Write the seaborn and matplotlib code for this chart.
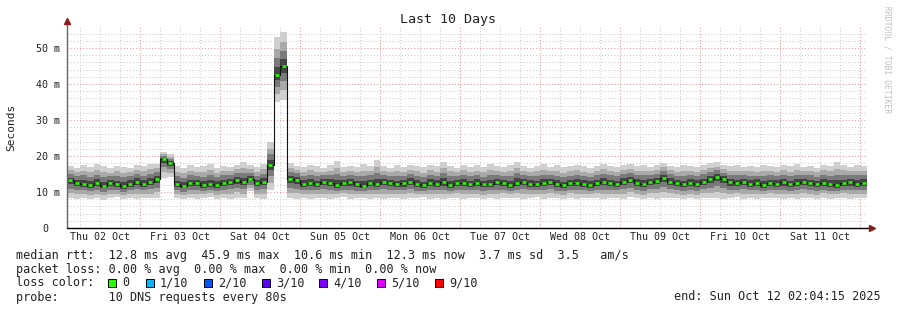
import numpy as np
import matplotlib
matplotlib.use("Agg")
import matplotlib.pyplot as plt
import seaborn as sns
from matplotlib.patches import Rectangle
from matplotlib.transforms import ScaledTranslation

# ---------------- data (2-hour steps, ms) ----------------
median_ms = [
    13.2, 12.6, 12.3, 12.0, 12.4, 11.8, 12.5, 12.1, 11.6, 12.3, 12.9, 12.2, 12.8,
    13.6, 19.2, 18.0,
    12.2, 11.8, 12.4, 12.6, 11.9, 12.2, 12.0, 12.5, 12.9, 13.3, 12.8, 13.6, 12.4, 12.9,
    17.5, 42.5, 45.0,
    13.6, 13.4, 12.3, 12.6, 12.1, 12.8, 12.5, 11.9, 12.4, 12.7, 12.2, 11.8, 12.5,
    12.3, 12.9, 12.6, 12.1, 12.4, 12.8, 12.2, 11.9, 12.5, 12.3, 12.7, 12.0, 12.4, 12.6, 12.2,
    12.5, 12.1, 12.3, 12.8, 12.4, 12.0, 12.6, 12.9, 12.3, 12.1, 12.5, 12.7, 12.2, 11.9, 12.4,
    12.6, 12.3, 12.0, 12.4, 12.8, 12.5, 12.2, 12.9, 13.4, 12.6, 12.3, 12.7, 13.1, 13.8, 12.9,
    12.4, 12.1, 12.6, 12.3, 12.8, 13.5, 14.2, 13.6, 12.7, 12.4, 12.9, 12.2, 12.6, 12.0, 12.5,
    12.3, 12.7, 12.1, 12.4, 12.8, 12.5, 12.2, 12.6, 12.3, 12.0, 12.4, 12.7, 12.3, 12.6,
]
smoke_max_ms = [
    17.2, 16.8, 17.5, 16.9, 17.8, 17.1, 16.6, 17.3, 17.0, 16.8, 17.6, 17.2, 17.9,
    17.8, 21.0, 20.5,
    17.1, 16.7, 17.4, 16.9, 17.2, 17.8, 16.8, 17.3, 17.0, 17.6, 18.3, 17.4, 16.9, 17.8,
    24.0, 53.0, 54.5,
    18.0, 17.3, 16.9, 17.6, 17.1, 16.8, 17.4, 18.6, 17.0, 17.3, 16.9, 17.7, 17.2,
    18.9, 17.1, 16.8, 17.4, 17.0, 17.6, 17.2, 16.9, 17.5, 17.1, 18.2, 17.3, 16.8, 17.6, 17.0,
    17.4, 16.9, 17.8, 17.2, 17.0, 17.5, 18.4, 17.1, 16.8, 17.3, 17.7, 17.0, 17.4, 16.9, 17.2,
    17.6, 17.1, 16.8, 17.3, 17.9, 17.2, 17.0, 17.5, 17.8, 17.2, 17.4, 17.0, 17.6, 18.1, 17.3,
    17.0, 17.5, 17.2, 16.9, 17.4, 18.0, 18.2, 17.6, 17.1, 17.4, 16.9, 17.3, 17.0, 17.6, 17.2,
    16.9, 17.4, 17.1, 17.8, 17.0, 17.3, 16.8, 17.5, 17.2, 18.3, 17.6, 17.0, 17.4, 17.2,
]
smoke_min_ms = [
    8.2, 8.0, 8.4, 8.1, 8.3, 7.9, 8.2, 8.5, 8.0, 8.3, 8.1, 8.4, 8.2,
    8.3, 14.0, 14.2,
    8.4, 8.1, 8.3, 8.0, 8.2, 8.5, 8.1, 8.3, 8.0, 8.4, 8.2, 10.2, 8.3, 8.1,
    10.5, 35.0, 35.5,
    8.2, 8.0, 8.3, 8.1, 8.4, 8.2, 8.0, 8.3, 8.5, 8.1, 8.2, 8.4, 8.0,
    8.3, 8.1, 8.2, 8.4, 8.0, 8.3, 8.2, 8.5, 8.1, 8.3, 8.0, 8.2, 8.4, 8.1, 8.3,
    8.2, 8.0, 8.3, 8.1, 8.4, 8.2, 8.3, 8.0, 8.2, 8.5, 8.1, 8.3, 8.2, 8.0, 8.4,
    8.1, 8.3, 8.2, 8.4, 8.0, 8.2, 8.3, 8.1, 8.5, 8.2, 8.0, 8.3, 8.1, 8.4, 8.2,
    8.3, 8.1, 8.2, 8.0, 8.4, 8.2, 8.3, 8.1, 8.2, 8.5, 8.0, 8.3, 8.1, 8.2, 8.4,
    8.2, 8.0, 8.3, 8.1, 8.4, 8.2, 8.0, 8.3, 8.1, 8.2, 8.4, 8.0, 8.3, 8.2,
]
day_labels = ["Thu 02 Oct", "Fri 03 Oct", "Sat 04 Oct", "Sun 05 Oct", "Mon 06 Oct",
              "Tue 07 Oct", "Wed 08 Oct", "Thu 09 Oct", "Fri 10 Oct", "Sat 11 Oct"]
ytick_vals = [0, 10, 20, 30, 40, 50]
ytick_labels = ["0", "10 m", "20 m", "30 m", "40 m", "50 m"]
loss_labels = ["0", "1/10", "2/10", "3/10", "4/10", "5/10", "9/10"]
loss_colors = ["#26ff00", "#00b8ff", "#0059ff", "#5e00ff", "#7e00ff", "#dd00ff", "#ff0000"]
legend_lines = [
    "median rtt:  12.8 ms avg  45.9 ms max  10.6 ms min  12.3 ms now  3.7 ms sd  3.5   am/s",
    "packet loss: 0.00 % avg  0.00 % max  0.00 % min  0.00 % now",
]
probe_text = "probe:       10 DNS requests every 80s"
end_text = "end: Sun Oct 12 02:04:15 2025"
title_text = "Last 10 Days"

# ---------------- layout ----------------
W, H = 897, 310
sns.set_theme(style="white")
plt.rcParams["font.family"] = ["DejaVu Sans Mono", "DejaVu Sans"]

fig = plt.figure(figsize=(W / 100, H / 100), dpi=100)
fig.patch.set_facecolor("white")
AX_L, AX_R, AX_B, AX_T = 67, 867, 228, 26.4
ax = fig.add_axes([AX_L / W, (H - AX_B) / H, (AX_R - AX_L) / W, (AX_B - AX_T) / H])
ax.set_facecolor("white")

def px(x, y):
    return x / W, 1 - y / H

# time axis: hours since Oct 02 00:00
start_h = 2 + 4.25 / 60
step_h = 2.0
n = len(median_ms)
t_edges = start_h + step_h * np.arange(n + 1)
t_mid = t_edges[:-1] + step_h / 2

med = np.array(median_ms)
lo = np.array(smoke_min_ms)
hi = np.array(smoke_max_ms)

# smoke layers (outer to inner)
layer_frac = [0.0, 0.3, 0.55, 0.8]
layer_col = ["#cfcfcf", "#a9a9a9", "#7a7a7a", "#444444"]
for f, c in zip(layer_frac, layer_col):
    lower = lo + f * (med - lo)
    upper = hi - f * (hi - med)
    ax.fill_between(t_edges, np.append(lower, lower[-1]), np.append(upper, upper[-1]),
                    step="post", color=c, lw=0, zorder=2)

# median line (black step) + green loss-colour markers
sns.lineplot(x=t_edges, y=np.append(med, med[-1]), drawstyle="steps-post",
             color="#111111", lw=0.8, ax=ax, zorder=3, sort=False)
sns.scatterplot(x=t_mid, y=med, marker="_", s=12, color=loss_colors[0],
                linewidth=1.8, ax=ax, zorder=4)

ax.set_xlim(start_h, start_h + 240)
ax.set_ylim(0, 56)
ax.set_xlabel("")
ax.set_ylabel("")

# grid
ax.set_xticks(np.arange(24, 241, 24))
ax.set_xticks(np.arange(6, 243, 6), minor=True)
ax.set_yticks(ytick_vals)
ax.set_yticklabels(ytick_labels)
ax.set_yticks(np.arange(2, 56, 2), minor=True)
ax.grid(which="minor", color="#cccccc", linestyle=(0, (1, 2)), lw=0.75, zorder=1)
ax.grid(which="major", color="#e09a9a", linestyle=(0, (1, 2)), lw=0.75, zorder=1)
ax.set_axisbelow(True)
ax.tick_params(axis="x", which="both", length=0, labelbottom=False)
ax.tick_params(axis="y", which="both", length=0, pad=5, labelsize=7.2, labelcolor="#222222")
for lab in ax.get_yticklabels():
    lab.set_fontfamily(["DejaVu Sans Mono"])
lab0 = ax.yaxis.get_major_ticks()[0].label1
lab0.set_transform(lab0.get_transform() + ScaledTranslation(-12 / 100, 0, fig.dpi_scale_trans))

for s in ax.spines.values():
    s.set_visible(False)

# axis lines and arrows
ah = AX_B - AX_T
aw = AX_R - AX_L
ax.plot([0, 0], [0, 1 + 4 / ah], transform=ax.transAxes, clip_on=False, color="#666666", lw=1.0, zorder=5)
ax.plot([0, 1 + 4 / aw], [0, 0], transform=ax.transAxes, clip_on=False, color="#000000", lw=1.0, zorder=5)
ax.plot([0], [1 + 5 / ah], marker="^", ms=4.5, color="#8b1a1a", transform=ax.transAxes, clip_on=False, zorder=6)
ax.plot([1 + 5 / aw], [0], marker=">", ms=4.5, color="#8b1a1a", transform=ax.transAxes, clip_on=False, zorder=6)

# day labels at noon
for k, lab in enumerate(day_labels):
    ax.text(12 + 24 * k, -9 / ah, lab, transform=ax.get_xaxis_transform(),
            ha="center", va="center", fontsize=7.2, color="#222222")

# title, y label, watermark
fig.text(*px(448, 19), title_text, ha="center", va="center", fontsize=9.6, color="#222222")
fig.text(*px(11, 127), "Seconds", ha="center", va="center", rotation=90, fontsize=8, color="#222222")
fig.text(*px(887, 60), "RRDTOOL / TOBI OETIKER", ha="center", va="center", rotation=270,
         fontsize=5.8, color="#c0c0c0")

# legend block
fs = 8.5
fig.text(*px(16, 255), legend_lines[0], ha="left", va="center", fontsize=fs, color="#222222")
fig.text(*px(16, 269), legend_lines[1], ha="left", va="center", fontsize=fs, color="#222222")
fig.text(*px(16, 283), "loss color:", ha="left", va="center", fontsize=fs, color="#222222")
sq_x = [108, 146, 204, 262, 319, 377, 435]
lab_x = [122, 160, 218, 276, 333, 391, 449]
for sx, lx, lab, col in zip(sq_x, lab_x, loss_labels, loss_colors):
    fig.add_artist(Rectangle(px(sx, 287), 8 / W, 8 / H, transform=fig.transFigure,
                             facecolor=col, edgecolor="#000000", lw=0.7))
    fig.text(*px(lx, 283), lab, ha="left", va="center", fontsize=fs, color="#222222")
fig.text(*px(16, 297), probe_text, ha="left", va="center", fontsize=fs, color="#222222")
fig.text(*px(881, 297), end_text, ha="right", va="center", fontsize=fs, color="#222222")

fig.savefig("out.png", dpi=100, facecolor="white")
